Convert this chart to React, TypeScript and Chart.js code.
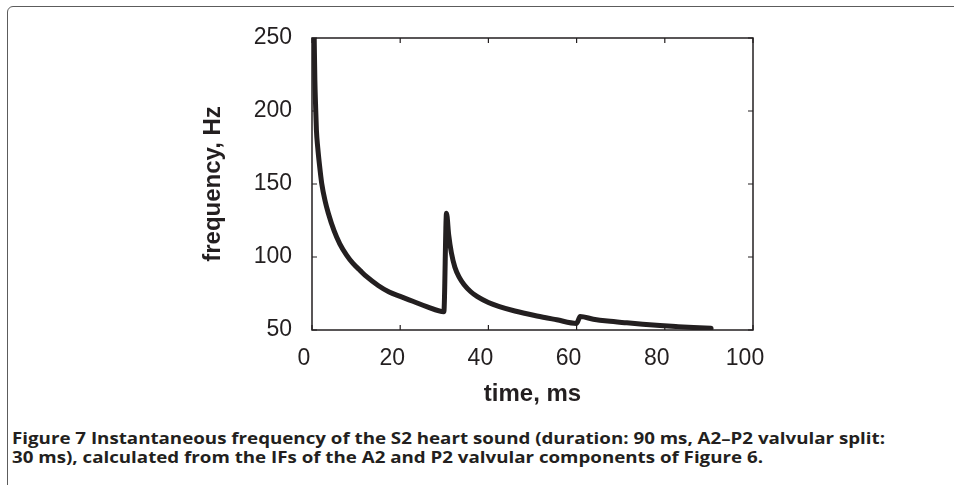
import React, { useEffect, useLayoutEffect, useRef, useState } from "react";
import { Chart, registerables } from "chart.js";

Chart.register(...registerables);

// ---- data ----
const timeMs = [
  0.5, 0.65, 0.8, 1.0, 1.3, 1.7, 2.2, 3.0, 3.7, 5.0, 6.3, 7.8, 9.3, 11, 12.4, 15, 17.5, 20, 23, 26, 29.9,
  30.5, 31.0, 31.6, 32.4, 33.4, 34.5, 36, 37.5, 40, 42.5, 46, 51, 55.5, 60,
  60.8, 63.8, 67, 71.4, 75, 78.9, 82.5, 86.5, 90.5,
];
const freqHz = [
  250, 221, 205, 187, 175, 163, 150.5, 138, 130, 118, 109, 101.5, 95.6, 90.5, 86.5, 80.5, 76, 73, 69.5, 66, 62.5,
  130, 115, 103, 93, 86, 81, 76.2, 72.8, 68.8, 66, 63, 59.6, 57, 54.5,
  59.2, 57.4, 56.1, 54.9, 54, 53.1, 52.4, 51.7, 51.2,
];
const xTickValues = [0, 20, 40, 60, 80, 100];
const yTickValues = [50, 100, 150, 200, 250];
const xTitle = "time, ms";
const yTitle = "frequency, Hz";
const captionLine1 =
  "Figure 7 Instantaneous frequency of the S2 heart sound (duration: 90 ms, A2–P2 valvular split:";
const captionLine2 =
  "30 ms), calculated from the IFs of the A2 and P2 valvular components of Figure 6.";

const INK = "#231f20";

const framePlugin = {
  id: "matlabFrame",
  beforeDatasetsDraw(chart: any) {
    const { ctx, chartArea: a, scales } = chart;
    const x = scales.x;
    const y = scales.y;
    ctx.save();
    ctx.strokeStyle = INK;
    ctx.lineWidth = 1.5;
    ctx.strokeRect(a.left, a.top, a.right - a.left, a.bottom - a.top);
    const L = 5;
    ctx.beginPath();
    x.ticks.forEach((t: any) => {
      const px = x.getPixelForValue(t.value);
      ctx.moveTo(px, a.bottom);
      ctx.lineTo(px, a.bottom - L);
      ctx.moveTo(px, a.top);
      ctx.lineTo(px, a.top + L);
    });
    y.ticks.forEach((t: any) => {
      const py = y.getPixelForValue(t.value);
      ctx.moveTo(a.left, py);
      ctx.lineTo(a.left + L, py);
      ctx.moveTo(a.right, py);
      ctx.lineTo(a.right - L, py);
    });
    ctx.lineWidth = 1.2;
    ctx.stroke();
    ctx.restore();
  },
};

function FrequencyChart() {
  const canvasRef = useRef<HTMLCanvasElement | null>(null);

  useEffect(() => {
    if (!canvasRef.current) return;
    const points = timeMs.map((t, i) => ({ x: t, y: freqHz[i] }));
    const chart = new Chart(canvasRef.current, {
      type: "line",
      data: {
        datasets: [
          {
            data: points,
            borderColor: INK,
            borderWidth: 5,
            pointRadius: 0,
            fill: false,
            tension: 0.4,
            cubicInterpolationMode: "monotone",
            borderCapStyle: "round",
            borderJoinStyle: "round",
          },
        ],
      },
      options: {
        animation: false,
        responsive: false,
        maintainAspectRatio: false,
        events: [],
        layout: { padding: { left: 198.6, top: 38, right: 201, bottom: 11.6 } },
        plugins: { legend: { display: false }, tooltip: { enabled: false } },
        scales: {
          x: {
            type: "linear",
            min: 0,
            max: 100,
            afterBuildTicks: (s: any) => {
              s.ticks = xTickValues.map((v) => ({ value: v }));
            },
            afterFit: (s: any) => {
              s.height = 78.4;
            },
            grid: { display: false, drawTicks: false },
            border: { display: false },
            ticks: {
              color: INK,
              padding: 15,
              labelOffset: -8,
              maxRotation: 0,
              autoSkip: false,
              font: { family: "'Liberation Sans', Arial, sans-serif", size: 23 },
            },
            title: {
              display: true,
              text: xTitle,
              color: INK,
              padding: 0,
              font: { family: "'Liberation Sans', Arial, sans-serif", size: 24, weight: "bold" },
            },
          },
          y: {
            type: "linear",
            min: 50,
            max: 250,
            afterBuildTicks: (s: any) => {
              s.ticks = yTickValues.map((v) => ({ value: v }));
            },
            afterFit: (s: any) => {
              s.width = 113.4;
            },
            grid: { display: false, drawTicks: false },
            border: { display: false },
            ticks: {
              color: INK,
              padding: 20,
              autoSkip: false,
              font: { family: "'Liberation Sans', Arial, sans-serif", size: 23 },
            },
            title: {
              display: true,
              text: yTitle,
              color: INK,
              padding: 0,
              font: { family: "'Liberation Sans', Arial, sans-serif", size: 24, weight: "bold" },
            },
          },
        },
      },
      plugins: [framePlugin],
    } as any);
    return () => chart.destroy();
  }, []);

  return (
    <canvas
      ref={canvasRef}
      width={954}
      height={420}
      style={{ position: "absolute", left: 0, top: 0, width: 954, height: 420 }}
    />
  );
}

export default function App() {
  const line1Ref = useRef<HTMLSpanElement | null>(null);
  const [scale, setScale] = useState(1);

  useLayoutEffect(() => {
    if (line1Ref.current) {
      const w = line1Ref.current.getBoundingClientRect().width;
      if (w > 0) setScale(873 / w);
    }
  }, []);

  const lineStyle: React.CSSProperties = {
    position: "absolute",
    left: 12,
    whiteSpace: "nowrap",
    fontFamily: "'Open Sans', 'Noto Sans', sans-serif",
    fontWeight: 700,
    fontSize: 16,
    lineHeight: "19px",
    color: INK,
    transform: `scaleX(${scale})`,
    transformOrigin: "left top",
  };

  return (
    <div
      style={{
        position: "fixed",
        left: 0,
        top: 0,
        width: 954,
        height: 485,
        overflow: "hidden",
        background: "#ffffff",
      }}
    >
      <div
        style={{
          position: "absolute",
          left: 7,
          top: 6,
          width: 1000,
          height: 600,
          border: "1px solid #5c5c5c",
          borderRadius: 6,
          boxSizing: "border-box",
        }}
      />
      <FrequencyChart />
      <span ref={line1Ref} style={{ ...lineStyle, top: 429 }}>
        {captionLine1}
      </span>
      <span style={{ ...lineStyle, top: 448 }}>{captionLine2}</span>
    </div>
  );
}
